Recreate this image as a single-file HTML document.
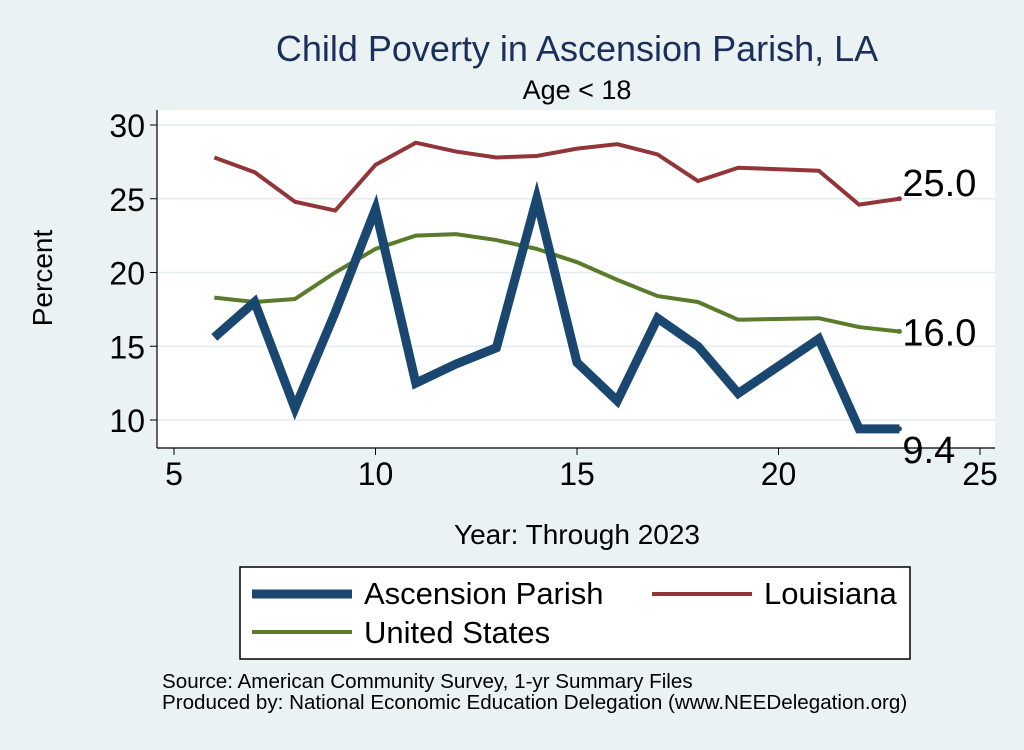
<!DOCTYPE html>
<html><head><meta charset="utf-8"><style>
body{margin:0;background:#eaf2f3;font-family:"Liberation Sans",sans-serif}
svg text{font-family:"Liberation Sans",sans-serif}
</style></head><body>
<svg id="c" width="1024" height="745" viewBox="0 0 1024 745" xmlns="http://www.w3.org/2000/svg">
<rect x="0" y="0" width="1024" height="745" fill="#eaf2f3"/>
<text x="577" y="61" font-size="36" fill="#1a2f5a" text-anchor="middle">Child Poverty in Ascension Parish, LA</text>
<text x="577" y="99" font-size="27" fill="#000" text-anchor="middle">Age &lt; 18</text>
<rect x="157" y="110" width="838" height="338" fill="#fff"/>
<g id="grid"></g><g id="axes"></g><g id="series"></g>
<text x="577" y="544" font-size="28" text-anchor="middle">Year: Through 2023</text>
<text x="52" y="278" font-size="28" text-anchor="middle" transform="rotate(-90 52 278)">Percent</text>
<g>
<rect x="240" y="567" width="670" height="92" fill="#fff" stroke="#000" stroke-width="1.5"/>
<line x1="252" y1="594" x2="352" y2="594" stroke="#1a4770" stroke-width="9"/>
<text x="364" y="604" font-size="31">Ascension Parish</text>
<line x1="652" y1="594" x2="752" y2="594" stroke="#913538" stroke-width="4"/>
<text x="764" y="604" font-size="31">Louisiana</text>
<line x1="252" y1="632" x2="352" y2="632" stroke="#5a7a2c" stroke-width="4"/>
<text x="364" y="643" font-size="31">United States</text>
</g>
<text x="162" y="688" font-size="20.6">Source: American Community Survey, 1-yr Summary Files</text>
<text x="162" y="709" font-size="20.6">Produced by: National Economic Education Delegation (www.NEEDelegation.org)</text>
</svg>
<script>
const years=[6,7,8,9,10,11,12,13,14,15,16,17,18,19,21,22,23];
const ascension=[15.6,18.0,10.8,17.3,24.3,12.5,13.8,14.9,25.0,13.9,11.3,16.9,15.0,11.8,15.5,9.4,9.4];
const louisiana=[27.8,26.8,24.8,24.2,27.3,28.8,28.2,27.8,27.9,28.4,28.7,28.0,26.2,27.1,26.9,24.6,25.0];
const unitedStates=[18.3,18.0,18.2,20.0,21.6,22.5,22.6,22.2,21.6,20.7,19.5,18.4,18.0,16.8,16.9,16.3,16.0];
const xTicks=[5,10,15,20,25];
const yTicks=[10,15,20,25,30];
const NS="http://www.w3.org/2000/svg";
const X=v=>174+(v-5)*(980-174)/20;
const Y=v=>420-(v-10)*(420-125)/20;
function mk(t,a,p){const e=document.createElementNS(NS,t);for(const k in a)e.setAttribute(k,a[k]);p.appendChild(e);return e;}
const grid=document.getElementById('grid'),axes=document.getElementById('axes'),ser=document.getElementById('series');
mk('line',{x1:157,y1:110,x2:157,y2:448,stroke:'#000','stroke-width':1.2},axes);
mk('line',{x1:157,y1:448,x2:995,y2:448,stroke:'#000','stroke-width':1.2},axes);
yTicks.forEach(v=>{
 const g=mk('line',{x1:157,y1:Y(v),x2:995,y2:Y(v),stroke:'#e3ecee','stroke-width':1.5},grid);
 
 mk('line',{x1:150,y1:Y(v),x2:157,y2:Y(v),stroke:'#000'},axes);
 const t=mk('text',{x:145,y:Y(v)+12,'font-size':32,'text-anchor':'end'},axes);t.textContent=v;
 
 
});
xTicks.forEach(v=>{
 mk('line',{x1:X(v),y1:448,x2:X(v),y2:455,stroke:'#000'},axes);
 const t=mk('text',{x:X(v),y:485,'font-size':32,'text-anchor':'middle'},axes);t.textContent=v;
 
 
});
function line(vals,col,w,name){
 const p=mk('polyline',{points:years.map((x,i)=>X(x)+','+Y(vals[i])).join(' '),fill:'none',stroke:col,'stroke-width':w,'stroke-linejoin':'miter'},ser);
 
 
 const n=years.length-1;
 mk('circle',{cx:X(years[n]),cy:Y(vals[n]),r:2.5,fill:col},ser);
}
line(louisiana,'#913538',4,'line-louisiana');
line(unitedStates,'#5a7a2c',4,'line-united-states');
line(ascension,'#1a4770',9,'line-ascension-parish');
const n=years.length-1;
function lab(v,dy,name){const t=mk('text',{x:X(years[n])+3,y:Y(v)+dy,'font-size':38},ser);t.textContent=v.toFixed(1);
 
 }
lab(louisiana[n],-3,'end-label-louisiana');
lab(unitedStates[n],14,'end-label-us');
lab(ascension[n],34,'end-label-ascension');
</script>
</body></html>
